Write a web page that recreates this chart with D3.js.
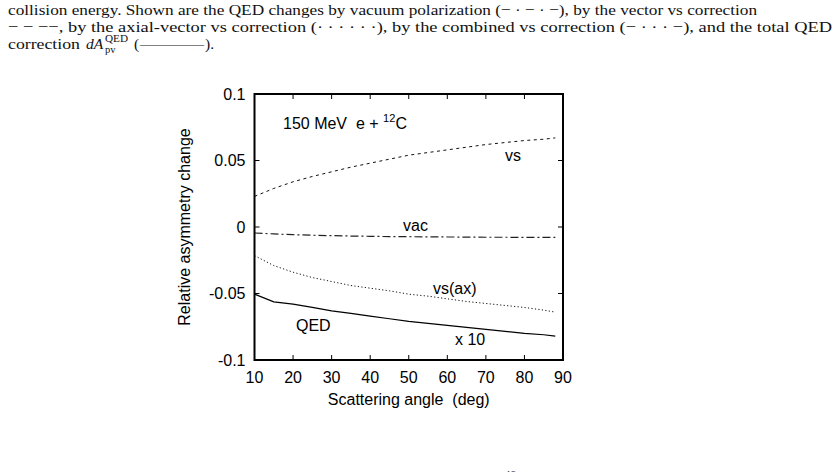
<!DOCTYPE html>
<html><head><meta charset="utf-8">
<script src="https://cdn.jsdelivr.net/npm/d3@7"></script>
<style>
html,body{margin:0;padding:0;background:#fff;}
svg{display:block;}
text{white-space:pre;}
</style></head>
<body>
<svg id="c" width="838" height="472"></svg>
<script>
// ---- data ----
const angles   = [10, 15, 20, 25, 30, 35, 40, 45, 50, 55, 60, 65, 70, 75, 80, 85, 88];
const vsVals   = [0.023, 0.029, 0.034, 0.038, 0.0415, 0.045, 0.048, 0.051, 0.054, 0.056, 0.058, 0.060, 0.062, 0.0635, 0.065, 0.066, 0.067];
const vacVals  = [-0.0045, -0.0052, -0.0058, -0.0062, -0.0065, -0.0068, -0.007, -0.0072, -0.0073, -0.0074, -0.0075, -0.0076, -0.0077, -0.0077, -0.0078, -0.0078, -0.0078];
const axVals   = [-0.0215, -0.029, -0.034, -0.038, -0.041, -0.044, -0.046, -0.048, -0.0505, -0.052, -0.054, -0.056, -0.0575, -0.059, -0.0605, -0.0625, -0.064];
const qedVals  = [-0.0505, -0.0563, -0.058, -0.0605, -0.063, -0.065, -0.067, -0.069, -0.071, -0.0725, -0.074, -0.0755, -0.077, -0.0785, -0.080, -0.081, -0.082];
const xTicks   = [10, 20, 30, 40, 50, 60, 70, 80, 90];
const yTicks   = [0.1, 0.05, 0, -0.05, -0.1];
const yTickLabels = ["0.1", "0.05", "0", "-0.05", "-0.1"];
const captionLines = [
  "collision energy. Shown are the QED changes by vacuum polarization (− · − · −), by the vector vs correction",
  "− − −−, by the axial-vector vs correction (· · · · · ·), by the combined vs correction (− · · · −), and the total QED"
];

// ---- layout ----
const svg = d3.select("#c");
const L = 254.5, R = 563, T = 94, B = 360;
const x = d3.scaleLinear().domain([10, 90]).range([L, R]);
const y = d3.scaleLinear().domain([-0.1, 0.1]).range([B, T]);
const sans = "'Liberation Sans', Arial, Helvetica, sans-serif";

// ---- caption ----
const capFont = "'Liberation Serif', 'Times New Roman', serif";
const capSize = 15.5;
const capWidths = [749, 824];
const capY = [15, 31.5];
captionLines.forEach((t, i) => {
  svg.append("text").attr("x", 8).attr("y", capY[i])
    .attr("font-family", capFont).attr("font-size", capSize)
    .attr("textLength", capWidths[i]).attr("lengthAdjust", "spacingAndGlyphs")
    .attr("fill", "#111").text(t);
});
// line 3 with math
const l3y = 48.5;
const cap = (tx, ty, s, size) => svg.append("text").attr("x", tx).attr("y", ty)
  .attr("font-family", capFont).attr("font-size", size || capSize).attr("fill", "#111").text(s);
cap(8, l3y, "correction").attr("textLength", 72).attr("lengthAdjust", "spacingAndGlyphs");
cap(86, l3y, "dA").attr("font-style", "italic");
cap(105, l3y - 6.5, "QED", 10).attr("textLength", 23).attr("lengthAdjust", "spacingAndGlyphs");
cap(105, l3y + 4, "pv", 10.5);
cap(134, l3y, "(");
cap(140, l3y, "——").attr("textLength", 64).attr("lengthAdjust", "spacingAndGlyphs");
cap(205, l3y, ").");

// cut-off start of the next caption at the bottom edge
svg.append("text").attr("x", 506).attr("y", 478).attr("font-family", capFont).attr("font-size", 10).attr("fill", "#111").text("12");

// ---- ticks (inward, mirrored) ----
const tk = svg.append("g").attr("stroke", "#000").attr("stroke-width", 1);
xTicks.forEach(v => {
  tk.append("line").attr("x1", x(v)).attr("x2", x(v)).attr("y1", B).attr("y2", B - 5);
  tk.append("line").attr("x1", x(v)).attr("x2", x(v)).attr("y1", T).attr("y2", T + 5);
});
yTicks.forEach(v => {
  tk.append("line").attr("x1", L).attr("x2", L + 5).attr("y1", y(v)).attr("y2", y(v));
  tk.append("line").attr("x1", R).attr("x2", R - 5).attr("y1", y(v)).attr("y2", y(v));
});

// tick labels
svg.append("g").selectAll("text").data(xTicks).join("text")
  .attr("x", d => x(d)).attr("y", B + 23).attr("text-anchor", "middle")
  .attr("font-family", sans).attr("font-size", 16).attr("fill", "#000").text(d => d);
svg.append("g").selectAll("text").data(yTicks).join("text")
  .attr("x", L - 9).attr("y", d => y(d) + 5.5).attr("text-anchor", "end")
  .attr("font-family", sans).attr("font-size", 16).attr("fill", "#000").text((d, i) => yTickLabels[i]);

// axis titles
svg.append("text").attr("x", (L + R) / 2).attr("y", 405).attr("text-anchor", "middle")
  .attr("font-family", sans).attr("font-size", 16).text("Scattering angle  (deg)");
svg.append("text").attr("transform", `translate(190,${(T + B) / 2}) rotate(-90)`).attr("text-anchor", "middle")
  .attr("font-family", sans).attr("font-size", 16).text("Relative asymmetry change");

// ---- curves ----
const line = vals => d3.line().x((d, i) => x(angles[i])).y(d => y(d))(vals);
const curves = [
  {v: vsVals,  dash: "3,3.5", w: 1, c: "#111"},
  {v: vacVals, dash: "8,3,2,3", w: 1.2, c: "#222"},
  {v: axVals,  dash: "1.2,2.3", w: 1, c: "#111"},
  {v: qedVals, dash: null, w: 1.2, c: "#000"}
];
curves.forEach(c => {
  svg.append("path").attr("d", line(c.v)).attr("fill", "none")
    .attr("stroke", c.c).attr("stroke-width", c.w)
    .attr("stroke-dasharray", c.dash);
});

// frame
svg.append("rect").attr("x", L).attr("y", T).attr("width", R - L).attr("height", B - T)
  .attr("fill", "none").attr("stroke", "#000").attr("stroke-width", 2);

// ---- in-plot labels ----
const lab = (tx, ty, s) => svg.append("text").attr("x", tx).attr("y", ty)
  .attr("font-family", sans).attr("font-size", 16).attr("fill", "#000").text(s);
const title = lab(283, 129, "150 MeV  e + ");
const tw = title.node().getComputedTextLength();
svg.append("text").attr("x", 283 + tw).attr("y", 122).attr("font-family", sans).attr("font-size", 11).text("12");
svg.append("text").attr("x", 283 + tw + 12.5).attr("y", 129).attr("font-family", sans).attr("font-size", 16).text("C");
lab(505, 161, "vs");
lab(403, 231, "vac");
lab(433, 294, "vs(ax)");
lab(296, 331, "QED");
lab(455, 345, "x 10");
</script>
</body></html>
